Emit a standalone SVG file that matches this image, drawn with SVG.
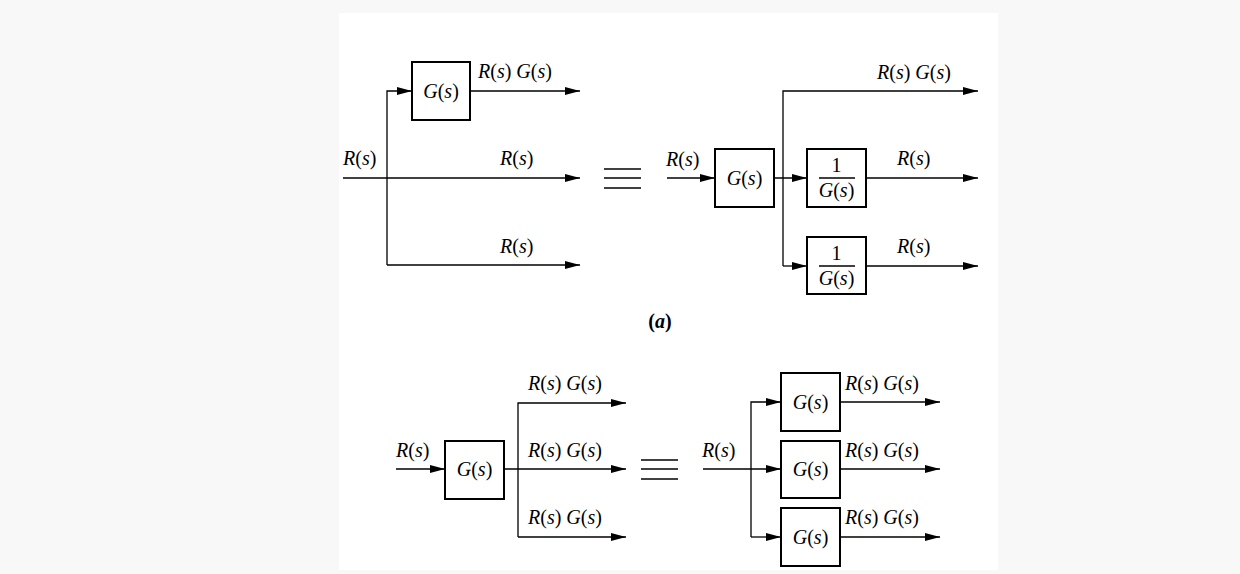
<svg xmlns="http://www.w3.org/2000/svg" width="1240" height="574" viewBox="0 0 1240 574">
<style>
.ln{fill:none;stroke:#000;stroke-width:1.3}
.bx{fill:#fff;stroke:#000;stroke-width:2}
.t{font-family:"Liberation Serif","Times New Roman",serif;font-size:20px;font-style:italic;fill:#000}
.u{font-style:normal}
.c{text-anchor:middle}
.b{font-weight:bold;font-size:20px}
.eq{stroke:#000;stroke-width:1.3}
</style>
<defs>
<marker id="ah" markerUnits="userSpaceOnUse" markerWidth="16" markerHeight="9" refX="15" refY="4" orient="auto">
<path d="M0,0 L15,4 L0,8 z" fill="#000"/>
</marker>
</defs>
<rect width="1240" height="574" fill="#f8f8f8"/>
<rect x="339" y="13" width="659" height="557" fill="#fff"/>

<g id="connectors">
<!-- (a) left -->
<path class="ln" d="M387,265 V91 H412" marker-end="url(#ah)"/>
<path class="ln" d="M470,91 H580" marker-end="url(#ah)"/>
<path class="ln" d="M343,178 H580" marker-end="url(#ah)"/>
<path class="ln" d="M387,265 H580" marker-end="url(#ah)"/>
<!-- (a) right -->
<path class="ln" d="M667,178 H715" marker-end="url(#ah)"/>
<path class="ln" d="M774,178 H807" marker-end="url(#ah)"/>
<path class="ln" d="M783,266 V91 H978" marker-end="url(#ah)"/>
<path class="ln" d="M783,266 H807" marker-end="url(#ah)"/>
<path class="ln" d="M866,178 H978" marker-end="url(#ah)"/>
<path class="ln" d="M866,266 H978" marker-end="url(#ah)"/>
<!-- (b) left -->
<path class="ln" d="M396,469 H445" marker-end="url(#ah)"/>
<path class="ln" d="M504,469 H626" marker-end="url(#ah)"/>
<path class="ln" d="M518,537 V403 H626" marker-end="url(#ah)"/>
<path class="ln" d="M518,537 H626" marker-end="url(#ah)"/>
<!-- (b) right -->
<path class="ln" d="M703,469 H781" marker-end="url(#ah)"/>
<path class="ln" d="M751,537 V402 H781" marker-end="url(#ah)"/>
<path class="ln" d="M751,537 H781" marker-end="url(#ah)"/>
<path class="ln" d="M840,402 H940" marker-end="url(#ah)"/>
<path class="ln" d="M840,469 H940" marker-end="url(#ah)"/>
<path class="ln" d="M840,537 H940" marker-end="url(#ah)"/>
</g>

<g id="equiv-a">
<line class="eq" x1="604" y1="169" x2="641" y2="169"/>
<line class="eq" x1="604" y1="178" x2="641" y2="178"/>
<line class="eq" x1="604" y1="188" x2="641" y2="188"/>
</g>
<g id="equiv-b">
<line class="eq" x1="641" y1="460" x2="678" y2="460"/>
<line class="eq" x1="641" y1="469" x2="678" y2="469"/>
<line class="eq" x1="641" y1="479" x2="678" y2="479"/>
</g>

<!-- (a) left nodes -->
<g id="a-left-G">
<rect class="bx" x="412" y="62" width="58" height="58"/>
<text class="t c" x="441" y="98">G<tspan class="u">(</tspan>s<tspan class="u">)</tspan></text>
</g>
<g id="a-left-labels">
<text class="t" x="478" y="78">R<tspan class="u">(</tspan>s<tspan class="u">)</tspan> G<tspan class="u">(</tspan>s<tspan class="u">)</tspan></text>
<text class="t" x="343" y="165">R<tspan class="u">(</tspan>s<tspan class="u">)</tspan></text>
<text class="t" x="500" y="165">R<tspan class="u">(</tspan>s<tspan class="u">)</tspan></text>
<text class="t" x="500" y="253">R<tspan class="u">(</tspan>s<tspan class="u">)</tspan></text>
</g>

<!-- (a) right nodes -->
<g id="a-right-G">
<rect class="bx" x="715" y="149" width="59" height="58"/>
<text class="t c" x="744.5" y="185">G<tspan class="u">(</tspan>s<tspan class="u">)</tspan></text>
</g>
<g id="a-right-inv1">
<rect class="bx" x="807" y="149" width="59" height="58"/>
<text class="t c u" x="836.5" y="172">1</text>
<line class="eq" x1="819" y1="178" x2="855" y2="178"/>
<text class="t c" x="836.5" y="197">G<tspan class="u">(</tspan>s<tspan class="u">)</tspan></text>
</g>
<g id="a-right-inv2">
<rect class="bx" x="807" y="237" width="59" height="57"/>
<text class="t c u" x="836.5" y="260">1</text>
<line class="eq" x1="819" y1="266" x2="855" y2="266"/>
<text class="t c" x="836.5" y="285">G<tspan class="u">(</tspan>s<tspan class="u">)</tspan></text>
</g>
<g id="a-right-labels">
<text class="t" x="877" y="79">R<tspan class="u">(</tspan>s<tspan class="u">)</tspan> G<tspan class="u">(</tspan>s<tspan class="u">)</tspan></text>
<text class="t" x="666" y="166">R<tspan class="u">(</tspan>s<tspan class="u">)</tspan></text>
<text class="t" x="897" y="165">R<tspan class="u">(</tspan>s<tspan class="u">)</tspan></text>
<text class="t" x="897" y="253">R<tspan class="u">(</tspan>s<tspan class="u">)</tspan></text>
</g>

<g id="caption-a">
<text class="t b c" x="660" y="328"><tspan class="u">(</tspan>a<tspan class="u">)</tspan></text>
</g>

<!-- (b) left nodes -->
<g id="b-left-G">
<rect class="bx" x="445" y="441" width="59" height="58"/>
<text class="t c" x="474.5" y="476">G<tspan class="u">(</tspan>s<tspan class="u">)</tspan></text>
</g>
<g id="b-left-labels">
<text class="t" x="396" y="457">R<tspan class="u">(</tspan>s<tspan class="u">)</tspan></text>
<text class="t" x="528" y="390">R<tspan class="u">(</tspan>s<tspan class="u">)</tspan> G<tspan class="u">(</tspan>s<tspan class="u">)</tspan></text>
<text class="t" x="528" y="457">R<tspan class="u">(</tspan>s<tspan class="u">)</tspan> G<tspan class="u">(</tspan>s<tspan class="u">)</tspan></text>
<text class="t" x="528" y="524">R<tspan class="u">(</tspan>s<tspan class="u">)</tspan> G<tspan class="u">(</tspan>s<tspan class="u">)</tspan></text>
</g>

<!-- (b) right nodes -->
<g id="b-right-G1">
<rect class="bx" x="781" y="373" width="59" height="58"/>
<text class="t c" x="810.5" y="409">G<tspan class="u">(</tspan>s<tspan class="u">)</tspan></text>
</g>
<g id="b-right-G2">
<rect class="bx" x="781" y="441" width="59" height="57"/>
<text class="t c" x="810.5" y="476">G<tspan class="u">(</tspan>s<tspan class="u">)</tspan></text>
</g>
<g id="b-right-G3">
<rect class="bx" x="781" y="508" width="59" height="58"/>
<text class="t c" x="810.5" y="544">G<tspan class="u">(</tspan>s<tspan class="u">)</tspan></text>
</g>
<g id="b-right-labels">
<text class="t" x="702" y="457">R<tspan class="u">(</tspan>s<tspan class="u">)</tspan></text>
<text class="t" x="845" y="390">R<tspan class="u">(</tspan>s<tspan class="u">)</tspan> G<tspan class="u">(</tspan>s<tspan class="u">)</tspan></text>
<text class="t" x="845" y="457">R<tspan class="u">(</tspan>s<tspan class="u">)</tspan> G<tspan class="u">(</tspan>s<tspan class="u">)</tspan></text>
<text class="t" x="845" y="524">R<tspan class="u">(</tspan>s<tspan class="u">)</tspan> G<tspan class="u">(</tspan>s<tspan class="u">)</tspan></text>
</g>
</svg>
